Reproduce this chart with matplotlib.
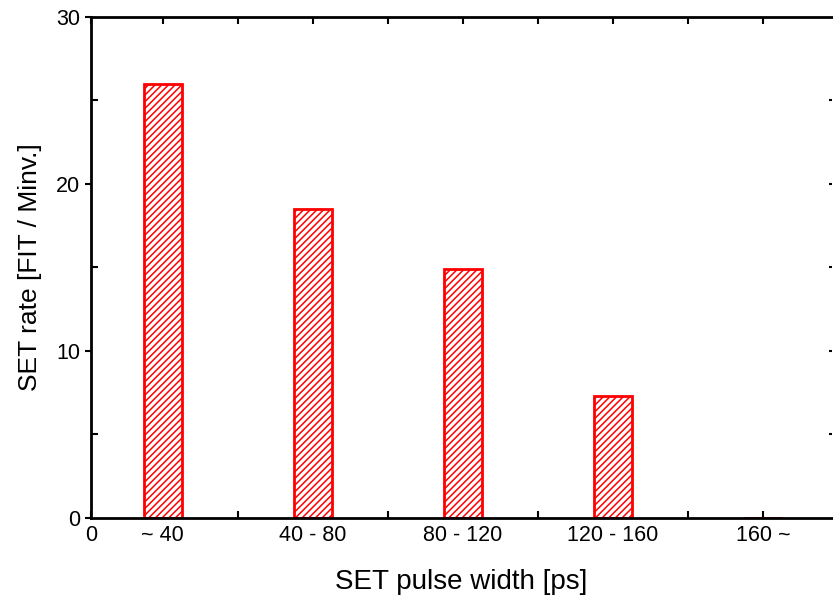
import matplotlib
matplotlib.use('Agg')
import matplotlib.pyplot as plt
from matplotlib.ticker import MultipleLocator, FixedLocator

plt.rcParams['font.family'] = ['Liberation Sans', 'DejaVu Sans']
plt.rcParams['hatch.linewidth'] = 1.1

categories = ['~ 40', '40 - 80', '80 - 120', '120 - 160', '160 ~']
set_rate = [26.0, 18.5, 14.9, 7.3, 0.0]

fig = plt.figure(figsize=(8.33, 5.98), dpi=100)
ax = fig.add_axes([0.109, 0.134, 0.89, 0.838])

pos = list(range(len(categories)))
ax.bar(pos, set_rate, width=0.25, facecolor='white', edgecolor='red',
       linewidth=2, hatch='/////', zorder=2)

ax.set_xlim(-0.48, 4.46)
ax.set_ylim(0, 30)

# x ticks: "0" at the left edge plus the categories
ax.xaxis.set_major_locator(FixedLocator([-0.48] + pos))
ax.set_xticklabels(['0'] + categories)
ax.xaxis.set_minor_locator(FixedLocator([0.5, 1.5, 2.5, 3.5]))
ax.tick_params(axis='x', which='both', direction='in', length=5, width=1.5,
               top=True, bottom=True, labelsize=15.5, pad=5)

ax.yaxis.set_major_locator(MultipleLocator(10))
ax.yaxis.set_minor_locator(MultipleLocator(5))
ax.tick_params(axis='y', which='major', direction='out', length=4, width=1.5,
               labelsize=15.5, right=False)
ax.tick_params(axis='y', which='minor', direction='in', length=5, width=1.5,
               right=False)

for s in ['left', 'bottom', 'top']:
    ax.spines[s].set_linewidth(2)
ax.spines['right'].set_visible(False)

# tiny ticks on the right side
ax2 = ax.twinx()
ax2.set_ylim(0, 30)
ax2.set_yticks([5, 10, 15, 20, 25])
ax2.tick_params(axis='y', direction='in', length=2, width=1.5, labelright=False)
for s in ax2.spines.values():
    s.set_visible(False)

ax.set_xlabel('SET pulse width [ps]', fontsize=20, labelpad=17)
ax.set_ylabel('SET rate [FIT / Minv.]', fontsize=19, labelpad=10)

fig.savefig('out.png', dpi=100)
